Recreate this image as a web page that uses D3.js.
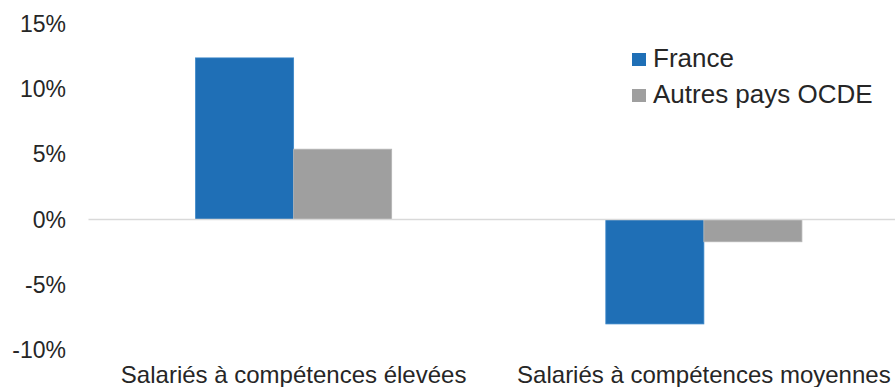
<!DOCTYPE html>
<html>
<head>
<meta charset="utf-8">
<script src="https://cdn.jsdelivr.net/npm/d3@7"></script>
<style>
  body { margin: 0; background: #fff; }
  svg text { font-family: "Liberation Sans", Arial, sans-serif; fill: #262626; }
</style>
</head>
<body>
<div id="chart"></div>
<script>
// DATA
const categories = ['Salariés à compétences élevées', 'Salariés à compétences moyennes'];
const seriesNames = ['France', 'Autres pays OCDE'];
const france = [12.4, -8.0];
const autres = [5.4, -1.7];
const yTicks = [-10, -5, 0, 5, 10, 15];
const colors = ['#1f6fb6', '#9f9f9f'];
const strokes = ['#3a86c8', '#b5b5b5'];

// DIMENSIONS
const width = 895, height = 387;
const plotLeft = 88.5, plotRight = 909, plotTop = 24, plotBottom = 350;

const svg = d3.select('#chart').append('svg')
  .attr('width', width)
  .attr('height', height);

// SCALES
const x = d3.scaleBand()
  .domain(categories)
  .range([plotLeft, plotRight])
  .paddingInner(0.522)
  .paddingOuter(0.261);

const xInner = d3.scaleBand()
  .domain(seriesNames)
  .range([0, x.bandwidth()]);

const y = d3.scaleLinear()
  .domain([-10, 15])
  .range([plotBottom, plotTop]);

// Y LABELS
svg.append('g')
  .selectAll('text')
  .data(yTicks)
  .join('text')
  .attr('x', 66)
  .attr('y', d => y(d))
  .attr('dy', '0.35em')
  .attr('text-anchor', 'end')
  .style('font-size', '23px')
  .text(d => d + '%');

// BARS
const rows = categories.map((c, i) => ({cat: c, values: [france[i], autres[i]]}));

const groups = svg.append('g')
  .selectAll('g')
  .data(rows)
  .join('g')
  .attr('transform', d => `translate(${x(d.cat)},0)`);

groups.selectAll('rect')
  .data(d => d.values.map((v, j) => ({name: seriesNames[j], v: v, j: j})))
  .join('rect')
  .attr('x', d => xInner(d.name))
  .attr('y', d => y(Math.max(0, d.v)))
  .attr('width', xInner.bandwidth())
  .attr('height', d => Math.abs(y(d.v) - y(0)))
  .attr('fill', d => colors[d.j])
  .attr('stroke', d => strokes[d.j])
  .attr('stroke-width', 0.8);

// ZERO LINE
svg.append('line')
  .attr('x1', plotLeft)
  .attr('x2', width)
  .attr('y1', y(0))
  .attr('y2', y(0))
  .attr('stroke', '#d9d9d9')
  .attr('stroke-width', 1.5);

// X LABELS
svg.append('g')
  .selectAll('text')
  .data(categories)
  .join('text')
  .attr('x', d => x(d) + x.bandwidth() / 2)
  .attr('y', 383)
  .attr('text-anchor', 'middle')
  .style('font-size', '24px')
  .text(d => d);

// LEGEND
const legend = svg.append('g')
  .attr('transform', 'translate(632,53)');

const item = legend.selectAll('g')
  .data(seriesNames)
  .join('g')
  .attr('transform', (d, i) => `translate(0,${i * 36})`);

item.append('rect')
  .attr('width', 14)
  .attr('height', 13)
  .attr('fill', (d, i) => colors[i]);

item.append('text')
  .attr('x', 21)
  .attr('y', 14)
  .style('font-size', '26px')
  .text(d => d);
</script>
</body>
</html>
